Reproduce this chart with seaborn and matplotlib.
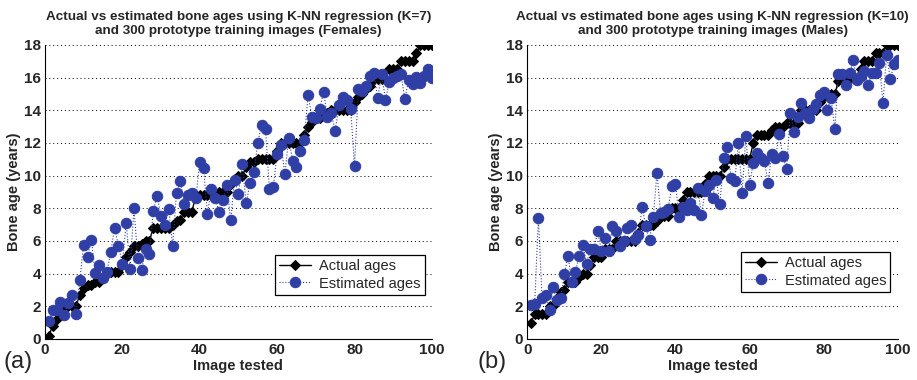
import seaborn as sns
import matplotlib.pyplot as plt

# image index
images = list(range(1, 101))

# females (K=7)
female_actual = [0.2, 0.8, 1.2, 1.5, 2.0, 2.0, 2.0, 2.0, 2.7, 3.1,
                 3.3, 3.3, 3.5, 3.5, 3.8, 4.0, 4.1, 4.1, 4.1, 4.5,
                 5.0, 5.3, 5.7, 5.7, 5.8, 6.0, 6.0, 6.8, 6.8, 6.8,
                 6.8, 6.8, 7.0, 7.2, 7.3, 7.8, 7.8, 7.8, 8.8, 8.8,
                 8.8, 8.8, 8.8, 8.8, 9.0, 9.0, 9.0, 9.5, 9.8, 10.0,
                 10.0, 10.5, 10.8, 10.8, 11.0, 11.0, 11.0, 11.0, 11.0, 11.5,
                 12.0, 12.0, 12.0, 12.0, 12.0, 12.0, 12.5, 13.0, 13.3, 13.5,
                 13.5, 13.7, 13.8, 14.0, 14.0, 14.0, 14.0, 14.0, 14.0, 14.5,
                 14.8, 15.0, 15.3, 15.5, 15.9, 15.9, 15.9, 15.9, 16.5, 16.5,
                 16.5, 17.0, 17.0, 17.0, 17.0, 17.5, 18.0, 18.0, 18.0, 18.0]
female_est = [1.1, 1.75, 1.75, 2.25, 1.45, 2.2, 2.7, 1.55, 3.6, 5.75,
              5.0, 6.05, 4.05, 4.55, 3.75, 4.1, 5.3, 6.8, 5.7, 4.6,
              7.1, 4.3, 8.0, 4.95, 4.2, 5.5, 5.2, 7.85, 8.75, 7.5,
              6.95, 7.95, 5.7, 8.95, 9.65, 8.25, 8.8, 8.95, 8.6, 10.85,
              10.45, 7.65, 9.2, 8.65, 7.8, 8.5, 9.45, 7.25, 9.75, 8.9,
              10.7, 8.3, 9.55, 10.2, 12.0, 13.1, 12.85, 9.2, 9.3, 11.3,
              11.9, 10.1, 12.3, 10.9, 10.5, 11.5, 12.2, 14.9, 13.6, 13.5,
              14.05, 15.1, 13.6, 13.8, 12.75, 14.3, 14.8, 14.6, 14.1, 10.6,
              15.3, 15.2, 15.5, 16.1, 16.25, 14.75, 16.2, 14.65, 15.75, 15.95,
              16.1, 16.2, 14.7, 15.85, 15.6, 16.05, 15.65, 16.1, 16.5, 16.0]

# males (K=10)
male_actual = [1.0, 1.5, 1.5, 1.5, 1.5, 2.0, 2.0, 2.5, 2.9, 3.0,
               3.5, 3.5, 3.5, 3.8, 4.0, 4.0, 4.5, 5.0, 5.0, 5.0,
               5.5, 5.5, 5.5, 6.0, 6.0, 6.0, 6.0, 6.0, 6.0, 6.5,
               7.0, 7.0, 7.0, 7.0, 7.2, 7.5, 7.5, 7.5, 8.0, 8.0,
               8.0, 8.5, 9.0, 9.0, 9.0, 9.0, 9.0, 9.5, 10.0, 10.0,
               10.0, 10.0, 10.5, 11.0, 11.0, 11.0, 11.0, 11.0, 11.0, 11.0,
               12.0, 12.5, 12.5, 12.5, 12.5, 12.8, 13.0, 13.0, 13.0, 13.2,
               13.2, 13.2, 13.2, 14.0, 14.0, 14.0, 14.0, 14.0, 14.5, 14.8,
               15.0, 15.0, 15.0, 15.8, 16.0, 16.0, 16.0, 16.0, 16.0, 16.5,
               17.0, 17.0, 17.0, 17.5, 17.5, 17.5, 18.0, 18.0, 18.0, 18.0]
male_est = [2.05, 2.15, 7.4, 2.5, 2.7, 1.8, 3.15, 2.4, 2.5, 3.95,
            5.1, 3.5, 4.1, 5.1, 5.75, 4.6, 5.5, 5.5, 6.6, 5.4,
            6.2, 5.4, 6.9, 6.6, 5.7, 6.0, 6.8, 7.0, 6.1, 6.35,
            8.05, 6.9, 6.05, 7.45, 10.15, 7.7, 7.8, 7.95, 9.35, 9.5,
            7.45, 8.1, 7.9, 8.35, 7.9, 9.25, 7.6, 9.05, 9.4, 8.6,
            9.75, 8.25, 11.1, 11.75, 9.85, 9.65, 12.0, 8.95, 12.45, 9.45,
            10.75, 11.4, 11.1, 10.9, 9.55, 11.35, 11.05, 12.55, 11.2, 10.4,
            13.85, 12.65, 13.6, 14.45, 13.8, 13.5, 14.1, 14.4, 14.9, 15.1,
            14.0, 14.75, 12.85, 16.2, 16.2, 15.55, 16.25, 17.05, 15.85, 16.1,
            16.4, 15.55, 16.3, 16.3, 16.9, 14.45, 17.4, 15.9, 16.8, 17.1]

panels = [
    ("Actual vs estimated bone ages using K-NN regression (K=7)\nand 300 prototype training images (Females)",
     female_actual, female_est, "(a)", -0.108, 0.125),
    ("Actual vs estimated bone ages using K-NN regression (K=10)\nand 300 prototype training images (Males)",
     male_actual, male_est, "(b)", -0.134, 0.135),
]

sns.set_style("white")
plt.rcParams['font.family'] = ['Liberation Sans', 'DejaVu Sans']
plt.rcParams['font.weight'] = 'bold'

fig = plt.figure(figsize=(9.17, 3.8), dpi=100)
ax_pos = [[0.049, 0.108, 0.422, 0.774], [0.575, 0.108, 0.404, 0.774]]
blue = '#2f3fa6'

for pos, (title, actual, est, tag, tag_x, leg_y) in zip(ax_pos, panels):
    ax = fig.add_axes(pos)
    sns.lineplot(x=images, y=actual, ax=ax, color='k', marker='D', markersize=5.2,
                 linewidth=1.0, markeredgecolor='k', sort=False, estimator=None,
                 label='Actual ages')
    sns.lineplot(x=images, y=est, ax=ax, color=blue, marker='o', markersize=7.5,
                 linewidth=0.8, linestyle=':', markeredgecolor=blue, sort=False,
                 estimator=None, label='Estimated ages')
    ax.set_xlim(0, 100)
    ax.set_ylim(0, 18)
    ax.set_xticks(range(0, 101, 20))
    ax.set_yticks(range(0, 19, 2))
    ax.grid(axis='y', linestyle=(0, (1, 3)), color='k', linewidth=0.7)
    ax.grid(axis='x', visible=False)
    ax.tick_params(direction='in', length=4, labelsize=11, width=0.8, pad=3)
    for s in ['top', 'right']:
        ax.spines[s].set_visible(False)
    for s in ['left', 'bottom']:
        ax.spines[s].set_color('k')
        ax.spines[s].set_linewidth(0.8)
    ax.set_title(title, fontsize=9.7, fontweight='bold', pad=8)
    ax.set_xlabel('Image tested', fontsize=10.5, fontweight='bold', labelpad=1)
    ax.set_ylabel('Bone age (years)', fontsize=10.5, fontweight='bold', labelpad=2)
    leg = ax.legend(loc='lower right', bbox_to_anchor=(1.0, leg_y),
                    prop={'size': 10.5, 'weight': 'normal'},
                    fancybox=False, edgecolor='k', framealpha=1, borderpad=0.3,
                    handlelength=2.2, handletextpad=0.5, labelspacing=0.25)
    leg.get_frame().set_linewidth(0.9)
    ax.text(tag_x, -0.078, tag, transform=ax.transAxes, fontsize=17,
            fontweight='normal', ha='left', va='center')

fig.savefig('out.png', dpi=100)
